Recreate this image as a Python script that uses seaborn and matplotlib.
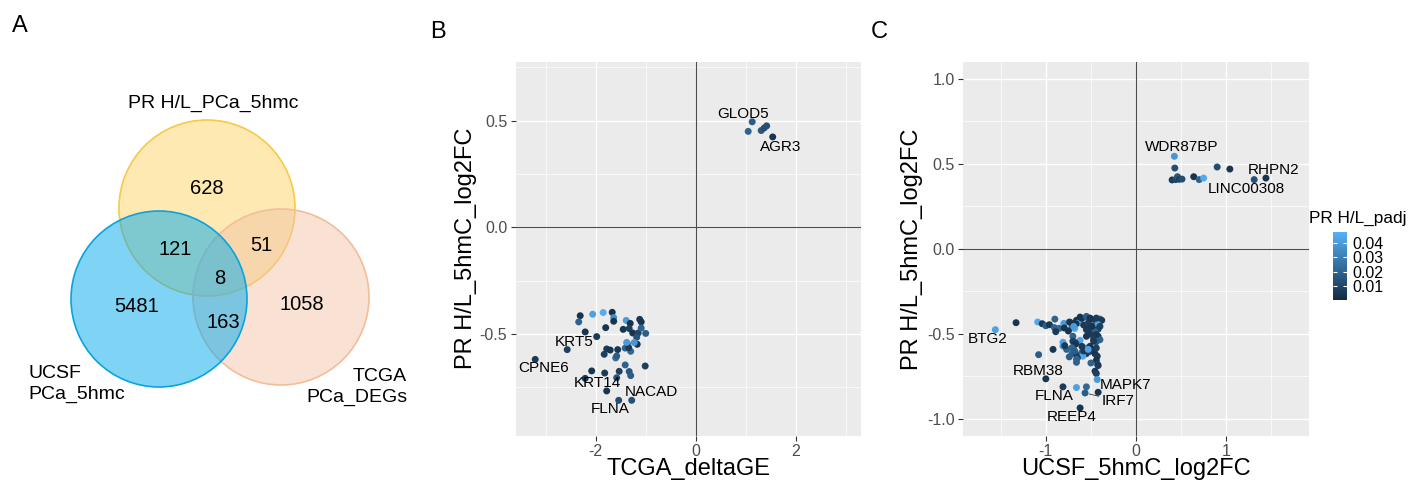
import numpy as np
import pandas as pd
import seaborn as sns
import matplotlib.pyplot as plt
from matplotlib.colors import LinearSegmentedColormap, Normalize, to_rgba
from matplotlib.cm import ScalarMappable
from matplotlib.patches import Circle

# ---- data ----
# Venn (panel A)
venn_sets = ["PR H/L_PCa_5hmc", "UCSF\nPCa_5hmc", "TCGA\nPCa_DEGs"]
venn_regions = ["PR", "UCSF", "TCGA", "PR&UCSF", "PR&TCGA", "UCSF&TCGA", "all"]
venn_counts = [628, 5481, 1058, 121, 51, 163, 8]

# panel B: TCGA_deltaGE vs PR H/L_5hmC_log2FC
b_x = [1.13, 1.05, 1.31, 1.37, 1.42, 1.54,
       -2.31, -2.34, -2.06, -1.85, -1.67, -1.64, -1.64, -1.39, -1.80, -2.21,
       -1.98, -2.57, -3.21, -1.45, -1.31, -1.33, -1.12, -1.09, -1.26, -1.15,
       -1.09, -1.00, -1.18, -1.37, -1.17, -1.23, -1.41, -1.30, -1.34, -1.78,
       -1.71, -1.56, -1.83, -1.60, -1.58, -1.41, -1.01, -2.08, -1.82, -1.53,
       -1.33, -1.30, -1.58, -2.21, -1.78, -1.54, -1.28, -1.38]
b_y = [0.495, 0.450, 0.454, 0.466, 0.476, 0.424,
       -0.415, -0.444, -0.408, -0.400, -0.399, -0.424, -0.441, -0.437, -0.471, -0.491,
       -0.513, -0.574, -0.620, -0.479, -0.451, -0.475, -0.432, -0.444, -0.496, -0.496,
       -0.473, -0.498, -0.516, -0.545, -0.549, -0.541, -0.567, -0.582, -0.565, -0.571,
       -0.576, -0.574, -0.596, -0.613, -0.604, -0.646, -0.651, -0.674, -0.684, -0.676,
       -0.677, -0.696, -0.706, -0.709, -0.768, -0.812, -0.812, -0.540]
b_padj = [0.018, 0.020, 0.016, 0.012, 0.014, 0.004,
          0.004, 0.020, 0.042, 0.046, 0.003, 0.035, 0.004, 0.040, 0.004, 0.004,
          0.006, 0.008, 0.006, 0.004, 0.003, 0.008, 0.006, 0.004, 0.004, 0.010,
          0.020, 0.018, 0.015, 0.005, 0.004, 0.038, 0.020, 0.022, 0.006, 0.006,
          0.004, 0.005, 0.008, 0.024, 0.018, 0.020, 0.008, 0.004, 0.006, 0.008,
          0.016, 0.018, 0.014, 0.006, 0.004, 0.012, 0.014, 0.040]
b_gene = ["GLOD5", "", "", "", "", "AGR3",
          "", "", "", "", "", "", "", "", "", "",
          "", "KRT5", "CPNE6", "", "", "", "", "", "", "",
          "", "", "", "", "", "", "", "", "", "",
          "", "", "", "", "", "", "", "", "", "",
          "", "", "", "KRT14", "", "FLNA", "NACAD", ""]

# panel C: UCSF_5hmC_log2FC vs PR H/L_5hmC_log2FC
c_x = [0.425, 0.43, 0.40, 0.44, 0.46, 0.48, 0.51, 0.64, 0.70, 0.75, 0.90, 1.04, 1.31, 1.44,
       -1.56, -1.33, -1.09, -1.04, -1.00, -0.96, -0.90, -0.905, -0.85, -0.89,
       -0.80, -0.74, -0.71, -0.66, -0.64, -0.60, -0.54, -0.50, -0.45, -0.40,
       -0.38, -0.665, -0.58, -0.53, -0.47, -0.425, -0.52, -0.42, -0.455, -0.51,
       -0.55, -0.42, -0.47, -0.40, -0.44, -0.68, -0.75, -0.70, -0.62, -0.68,
       -0.665, -0.81, -0.81, -0.77, -0.92, -1.08, -0.71, -0.66, -0.60, -0.55,
       -0.51, -0.47, -0.455, -0.43, -0.44, -0.425, -0.50, -0.74, -0.66, -0.59,
       -0.55, -0.65, -0.455, -0.44, -0.43, -1.00, -0.81, -0.66, -0.55, -0.565,
       -0.42, -0.62, -0.795, -0.73, -0.69, -0.62, -0.55, -0.51, -0.44, -0.40,
       -0.49, -0.55, -0.44, -0.47, -0.51, -0.44, -0.42, -0.79, -0.70, -0.68,
       -0.60, -0.71, -0.68, -0.58, -0.53, -0.66]
c_y = [0.544, 0.475, 0.405, 0.407, 0.424, 0.409, 0.410, 0.424, 0.407, 0.416, 0.481, 0.469, 0.407, 0.416,
       -0.475, -0.434, -0.430, -0.440, -0.452, -0.446, -0.413, -0.463, -0.467, -0.487,
       -0.438, -0.430, -0.463, -0.420, -0.436, -0.409, -0.403, -0.413, -0.416, -0.413,
       -0.420, -0.440, -0.448, -0.436, -0.452, -0.444, -0.468, -0.472, -0.487, -0.501,
       -0.514, -0.514, -0.530, -0.534, -0.546, -0.468, -0.483, -0.514, -0.538, -0.549,
       -0.557, -0.549, -0.571, -0.591, -0.591, -0.622, -0.616, -0.622, -0.608, -0.616,
       -0.602, -0.592, -0.616, -0.631, -0.655, -0.680, -0.671, -0.635, -0.667, -0.631,
       -0.583, -0.641, -0.719, -0.733, -0.768, -0.764, -0.811, -0.815, -0.811, -0.847,
       -0.843, -0.935, -0.465, -0.432, -0.456, -0.401, -0.397, -0.407, -0.407, -0.456,
       -0.456, -0.475, -0.504, -0.543, -0.573, -0.583, -0.686, -0.569, -0.543, -0.563,
       -0.573, -0.581, -0.600, -0.600, -0.591, -0.649]
c_padj = [0.038, 0.012, 0.006, 0.010, 0.016, 0.008, 0.012, 0.004, 0.020, 0.045, 0.012, 0.004, 0.014, 0.004,
          0.042, 0.004, 0.045, 0.006, 0.018, 0.005, 0.020, 0.020, 0.022, 0.006,
          0.040, 0.016, 0.020, 0.004, 0.044, 0.004, 0.018, 0.006, 0.008, 0.020,
          0.006, 0.004, 0.006, 0.008, 0.005, 0.042, 0.006, 0.008, 0.020, 0.006,
          0.004, 0.006, 0.008, 0.020, 0.018, 0.045, 0.004, 0.020, 0.043, 0.006,
          0.008, 0.042, 0.040, 0.020, 0.004, 0.018, 0.020, 0.008, 0.022, 0.006,
          0.008, 0.006, 0.004, 0.006, 0.004, 0.008, 0.020, 0.018, 0.020, 0.044,
          0.040, 0.006, 0.006, 0.008, 0.040, 0.004, 0.006, 0.042, 0.022, 0.018,
          0.004, 0.004, 0.004, 0.004, 0.040, 0.004, 0.018, 0.004, 0.006, 0.008,
          0.004, 0.006, 0.005, 0.006, 0.004, 0.008, 0.006, 0.006, 0.008, 0.004,
          0.006, 0.020, 0.018, 0.006, 0.042, 0.020]
c_gene = ["WDR87BP", "", "", "", "", "", "", "", "", "", "", "", "LINC00308", "RHPN2",
          "BTG2", "", "", "", "", "", "", "", "", "",
          "", "", "", "", "", "", "", "", "", "",
          "", "", "", "", "", "", "", "", "", "",
          "", "", "", "", "", "", "", "", "", "",
          "", "", "", "", "", "", "", "", "", "",
          "", "", "", "", "", "", "", "", "", "",
          "", "", "", "", "MAPK7", "RBM38", "FLNA", "", "", "IRF7",
          "", "REEP4", "", "", "", "", "", "", "", "",
          "", "", "", "", "", "", "", "", "", "",
          "", "", "", "", "", ""]

# ---- style ----
plt.rcParams['font.family'] = ['Liberation Sans', 'DejaVu Sans']
plt.rcParams['axes.unicode_minus'] = False

cmap = LinearSegmentedColormap.from_list("gg", ["#132B43", "#56B1F7"])
norm = Normalize(vmin=0.0005, vmax=0.0476)

fig = plt.figure(figsize=(14.11, 4.91), dpi=100)

# ---- panel A: venn ----
axA = fig.add_axes([0, 0, 420 / 1411, 1])
axA.set_xlim(0, 420)
axA.set_ylim(491, 0)
axA.axis('off')

circles = [  # (center x, center y, fill, edge) in pixels
    (207, 208, "#FDD565", "#F7C948"),
    (281, 297, "#F5C5A9", "#F3BD9A"),
    (159, 299, "#00ABEF", "#0AA3E0"),
]
for cx, cy, fc, ec in circles:
    axA.add_patch(Circle((cx, cy), 88, facecolor=to_rgba(fc, 0.5), edgecolor=ec, lw=1.2))

count_pos = {"PR": (207, 188), "UCSF": (137, 306), "TCGA": (302, 304),
             "PR&UCSF": (175, 249), "PR&TCGA": (261, 245), "UCSF&TCGA": (223, 323),
             "all": (220, 279)}
for reg, n in zip(venn_regions, venn_counts):
    px, py = count_pos[reg]
    axA.text(px, py, str(n), ha='center', va='center', fontsize=14.5)

axA.text(213, 103, venn_sets[0], ha='center', va='center', fontsize=14)
axA.text(28, 384, venn_sets[1], ha='left', va='center', fontsize=14, linespacing=1.35)
axA.text(407, 387, venn_sets[2], ha='right', va='center', fontsize=14, linespacing=1.35)

fig.text(12 / 1411, 1 - 32 / 491, "A", fontsize=17, va='baseline')
fig.text(430 / 1411, 1 - 38 / 491, "B", fontsize=17, va='baseline')
fig.text(871 / 1411, 1 - 38 / 491, "C", fontsize=17, va='baseline')

# label offsets in pixels (dx, dy), layout only
b_offsets = {"GLOD5": (-9, 8), "AGR3": (8, -10), "KRT5": (7, 8), "CPNE6": (8, -9),
             "KRT14": (12, -5), "NACAD": (20, 8), "FLNA": (-9, -9)}
c_offsets = {"WDR87BP": (7, 9), "RHPN2": (8, 8), "LINC00308": (-8, -9), "BTG2": (-8, -9),
             "RBM38": (-8, 8), "MAPK7": (28, -5), "FLNA": (-9, -9), "IRF7": (33, -8),
             "REEP4": (-8, -9)}


def draw_panel(ax, df, offsets, xlim, ylim, xmaj, xmin, ymaj, ymin, xlabel):
    ax.set_facecolor('#EBEBEB')
    for s in ax.spines.values():
        s.set_visible(False)
    ax.set_xlim(*xlim)
    ax.set_ylim(*ylim)
    ax.set_xticks(xmaj)
    ax.set_xticks(xmin, minor=True)
    ax.set_yticks(ymaj)
    ax.set_yticks(ymin, minor=True)
    ax.set_xticklabels([f"{v:g}" for v in xmaj])
    ax.set_yticklabels([f"{v:.1f}" for v in ymaj])
    ax.grid(which='major', color='white', lw=1.0)
    ax.grid(which='minor', color='white', lw=0.5)
    ax.set_axisbelow(True)
    ax.tick_params(which='major', length=3.5, width=0.8, color='#333333',
                   labelsize=11.5, labelcolor='#4D4D4D', pad=2.5)
    ax.tick_params(which='minor', length=0)
    ax.axvline(0, color='#4D4D4D', lw=0.8, zorder=2)
    ax.axhline(0, color='#4D4D4D', lw=0.8, zorder=2)
    sns.scatterplot(data=df, x='x', y='y', hue='padj', palette=cmap, hue_norm=norm,
                    s=25, linewidth=0, legend=False, ax=ax, zorder=3)
    for _, r in df[df['gene'] != ""].iterrows():
        dx, dy = offsets[r['gene']]
        kw = {}
        if r['gene'] == "IRF7":
            kw['arrowprops'] = dict(arrowstyle='-', color='#333333', lw=0.6,
                                    shrinkA=0, shrinkB=3)
        ax.annotate(r['gene'], (r['x'], r['y']), xytext=(dx, dy),
                    textcoords='offset pixels', ha='center', va='center',
                    fontsize=11, color='black', zorder=4, **kw)
    ax.set_xlabel(xlabel, fontsize=17)
    ax.set_ylabel("PR H/L_5hmC_log2FC", fontsize=17)
    ax.xaxis.label.set_va('center')
    ax.yaxis.label.set_va('center')


df_b = pd.DataFrame({'x': b_x, 'y': b_y, 'padj': b_padj, 'gene': b_gene})
df_c = pd.DataFrame({'x': c_x, 'y': c_y, 'padj': c_padj, 'gene': c_gene})

axB = fig.add_axes([515.7 / 1411, 1 - 435.7 / 491, 345 / 1411, 374 / 491])
draw_panel(axB, df_b, b_offsets, (-3.6, 3.3), (-0.978, 0.777), [-2, 0, 2], [-3, -1, 1, 3],
           [-0.5, 0.0, 0.5], [-0.75, -0.25, 0.25, 0.75], "TCGA_deltaGE")
axB.yaxis.set_label_coords((466 - 515.7) / 345, 0.5)
axB.xaxis.set_label_coords(0.5, (435.7 - 469) / 374)

axC = fig.add_axes([963.3 / 1411, 1 - 436 / 491, 345.7 / 1411, 374.3 / 491])
draw_panel(axC, df_c, c_offsets, (-1.915, 1.918), (-1.1, 1.1), [-1, 0, 1], [-1.5, -0.5, 0.5, 1.5],
           [-1.0, -0.5, 0.0, 0.5, 1.0], [-0.75, -0.25, 0.25, 0.75], "UCSF_5hmC_log2FC")
axC.yaxis.set_label_coords((912 - 963.3) / 345.7, 0.5)
axC.xaxis.set_label_coords(0.5, (436 - 469) / 374.3)

# colour bar legend
cax = fig.add_axes([1332.7 / 1411, 1 - 300 / 491, 14.6 / 1411, 68.3 / 491])
cb = fig.colorbar(ScalarMappable(norm=norm, cmap=cmap), cax=cax)
cb.set_ticks([0.01, 0.02, 0.03, 0.04])
cb.outline.set_visible(False)
cax.tick_params(which='both', left=True, right=True, labelleft=False, labelright=True,
                direction='in', length=3, color='white', labelsize=11.5, pad=4)
cax.minorticks_off()
fig.text(1309 / 1411, 1 - 218 / 491, "PR H/L_padj", fontsize=12.4, va='center')

fig.savefig("out.png", dpi=100)
